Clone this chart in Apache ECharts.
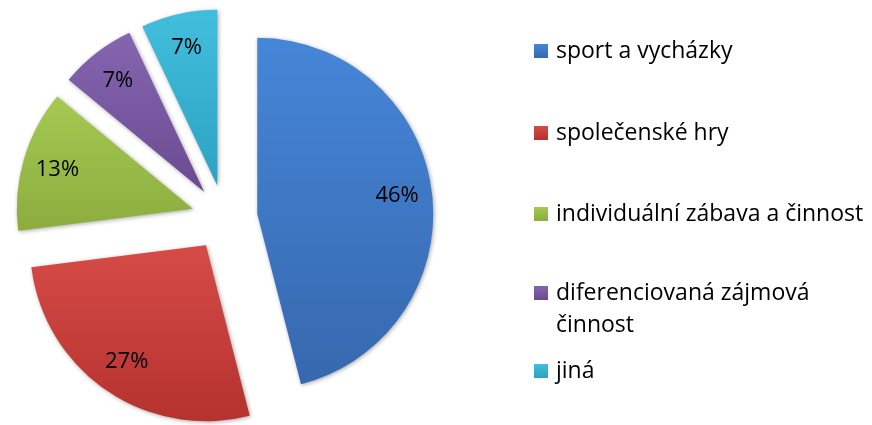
<!DOCTYPE html>
<html><head><meta charset="utf-8">
<script src="https://cdn.jsdelivr.net/npm/echarts@6/dist/echarts.min.js"></script>
<style>html,body{margin:0;padding:0;background:#fff}#c{width:872px;height:425px}</style>
</head><body><div id="c"></div>
<script>
const categories = ['sport a vycházky', 'společenské hry', 'individuální zábava a činnost', 'diferenciovaná zájmová činnost', 'jiná'];
const values = [46, 27, 13, 7, 7];
const colorsTop = ['#4686D8', '#D64B47', '#A5C952', '#8665B0', '#42BEDD'];
const colorsBottom = ['#3668AE', '#B5322F', '#8CAD3E', '#6A4B92', '#2CA2C2'];
const legendTops = [35, 117, 198, 245, 355];

const FONT = 'Open Sans';

function grad(i) {
  return {
    type: 'linear', x: 0, y: 0, x2: 0, y2: 1,
    colorStops: [{ offset: 0, color: colorsTop[i] }, { offset: 1, color: colorsBottom[i] }]
  };
}

const mainData = categories.map((n, i) => ({
  name: n, value: values[i], selected: true,
  itemStyle: { color: grad(i) }
}));
const labelData = categories.map((n, i) => ({ name: n, value: values[i], selected: true }));

const legends = categories.map((n, i) => ({
  data: [n],
  orient: 'vertical',
  left: 534,
  top: legendTops[i],
  padding: 0,
  itemWidth: 14,
  itemHeight: 14,
  icon: 'rect',
  selectedMode: false,
  formatter: name => name === 'diferenciovaná zájmová činnost' ? ' \ndiferenciovaná zájmová\nčinnost' : name,
  textStyle: {
    fontFamily: FONT, fontSize: 23, color: '#000', lineHeight: 32,
    padding: [0, 0, 0, 3]
  }
}));

const chart = echarts.init(document.getElementById('c'));
chart.setOption({
  animation: false,
  backgroundColor: '#fff',
  legend: legends,
  series: [
    {
      type: 'pie',
      center: [224.5, 218],
      radius: [0, 176],
      startAngle: 90,
      clockwise: true,
      selectedMode: 'multiple',
      selectedOffset: 33,
      avoidLabelOverlap: false,
      label: { show: false },
      labelLine: { show: false },
      emphasis: { scale: false },
      itemStyle: {
        borderWidth: 0,
        shadowBlur: 4, shadowColor: 'rgba(0,0,0,0.35)', shadowOffsetX: 1, shadowOffsetY: 1
      },
      data: mainData
    },
    {
      type: 'pie',
      silent: true,
      center: [224.5, 218],
      radius: [100, 176],
      startAngle: 90,
      clockwise: true,
      selectedMode: 'multiple',
      selectedOffset: 33,
      avoidLabelOverlap: false,
      itemStyle: { color: 'rgba(0,0,0,0)' },
      label: {
        show: true, position: 'inside', formatter: '{c}%',
        fontFamily: FONT, fontSize: 22, color: '#000'
      },
      labelLine: { show: false },
      emphasis: { scale: false },
      data: labelData
    }
  ]
});
</script>
</body></html>
